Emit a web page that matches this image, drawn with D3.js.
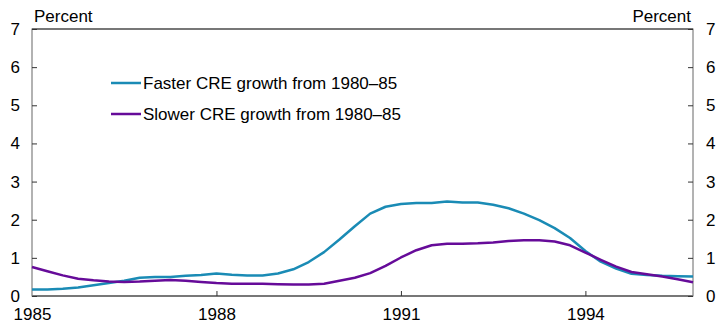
<!doctype html>
<html>
<head>
<style>
body { margin: 0; background: #fff; }
svg text { font-family: "Liberation Sans", Arial, sans-serif; fill: #000; }
.line { fill: none; stroke-width: 2.5px; stroke-linejoin: round; }
</style>
</head>
<body>
<div id="root"></div>
<script src="https://d3js.org/d3.v7.min.js"></script>
<script>
// quarterly, 1985Q1 - 1995Q4
var quarters = d3.range(44).map(function(i){ return 1985 + i / 4; });
var faster = [0.17, 0.17, 0.19, 0.22, 0.28, 0.34, 0.40, 0.48, 0.50, 0.50, 0.53, 0.55,
              0.59, 0.56, 0.54, 0.54, 0.59, 0.70, 0.89, 1.15, 1.48, 1.83, 2.16, 2.34,
              2.41, 2.44, 2.44, 2.48, 2.45, 2.45, 2.39, 2.30, 2.16, 1.99, 1.78, 1.52,
              1.18, 0.90, 0.72, 0.58, 0.55, 0.53, 0.52, 0.51];
var slower = [0.76, 0.65, 0.54, 0.45, 0.41, 0.38, 0.37, 0.38, 0.40, 0.42, 0.40, 0.37,
              0.34, 0.32, 0.32, 0.32, 0.31, 0.30, 0.30, 0.32, 0.40, 0.48, 0.60, 0.79,
              1.01, 1.20, 1.33, 1.37, 1.37, 1.38, 1.40, 1.44, 1.46, 1.46, 1.43, 1.33,
              1.14, 0.95, 0.77, 0.63, 0.57, 0.51, 0.44, 0.36];
var yTicks = [0, 1, 2, 3, 4, 5, 6, 7];
var xTicks = [1985, 1988, 1991, 1994];
var seriesNames = ['Faster CRE growth from 1980\u201385', 'Slower CRE growth from 1980\u201385'];
var colors = ['#1a8bb5', '#660b99'];

var W = 725, H = 327;
var m = {left: 32, right: 32, top: 29, bottom: 31};
var fs = 17;

var x = d3.scaleLinear().domain([1985, 1995.75]).range([m.left, W - m.right]);
var y = d3.scaleLinear().domain([0, 7]).range([H - m.bottom, m.top]);

var svg = d3.select('#root').append('svg')
	.attr('width', W)
	.attr('height', H);

// frame
svg.append('rect')
	.attr('x', x.range()[0]).attr('y', y(7))
	.attr('width', x.range()[1] - x.range()[0])
	.attr('height', y(0) - y(7))
	.attr('fill', 'none').attr('stroke', '#666').attr('stroke-width', 1);
svg.append('line')
	.attr('x1', x.range()[0]).attr('x2', x.range()[1])
	.attr('y1', y(7)).attr('y2', y(7))
	.attr('stroke', '#777').attr('stroke-width', 2);
svg.append('line')
	.attr('x1', x.range()[0]).attr('x2', x.range()[1])
	.attr('y1', y(0)).attr('y2', y(0))
	.attr('stroke', '#777').attr('stroke-width', 2);

var leftAxis = d3.axisLeft(y).tickValues(yTicks).tickFormat(d3.format('d')).tickSize(-5).tickPadding(12);
var rightAxis = d3.axisRight(y).tickValues(yTicks).tickFormat(d3.format('d')).tickSize(-5).tickPadding(13);
var bottomAxis = d3.axisBottom(x).tickValues(xTicks).tickFormat(d3.format('d')).tickSize(-5).tickPadding(12);

function styleAxis(g) {
	g.select('.domain').remove();
	g.selectAll('.tick line').attr('stroke', '#333');
	g.selectAll('.tick text').attr('font-size', fs).style('font-family', '"Liberation Sans", Arial, sans-serif');
}

svg.append('g').attr('transform', 'translate(' + m.left + ',0)').call(leftAxis).call(styleAxis);
svg.append('g').attr('transform', 'translate(' + (W - m.right) + ',0)').call(rightAxis).call(styleAxis);
svg.append('g').attr('transform', 'translate(0,' + (H - m.bottom) + ')').call(bottomAxis).call(styleAxis);

// no tick on the left edge for 1985
svg.selectAll('.tick').filter(function(d){ return d === 1985; }).select('line').remove();

svg.append('text').attr('x', 34).attr('y', 22).attr('font-size', fs).text('Percent');
svg.append('text').attr('x', 691).attr('y', 22).attr('font-size', fs).attr('text-anchor', 'end').text('Percent');

var line = d3.line()
	.x(function(d, i){ return x(quarters[i]); })
	.y(function(d){ return y(d); });

[faster, slower].forEach(function(s, k){
	svg.append('path').datum(s)
		.attr('class', 'line')
		.attr('stroke', colors[k])
		.attr('d', line);
});

// legend
seriesNames.forEach(function(name, k){
	var ly = 83 + k * 31;
	svg.append('line')
		.attr('x1', 111).attr('x2', 141)
		.attr('y1', ly).attr('y2', ly)
		.attr('stroke', colors[k]).attr('stroke-width', 2.5);
	svg.append('text')
		.attr('x', 143).attr('y', ly + 6)
		.attr('font-size', fs)
		.text(name);
});
</script>
</body>
</html>
